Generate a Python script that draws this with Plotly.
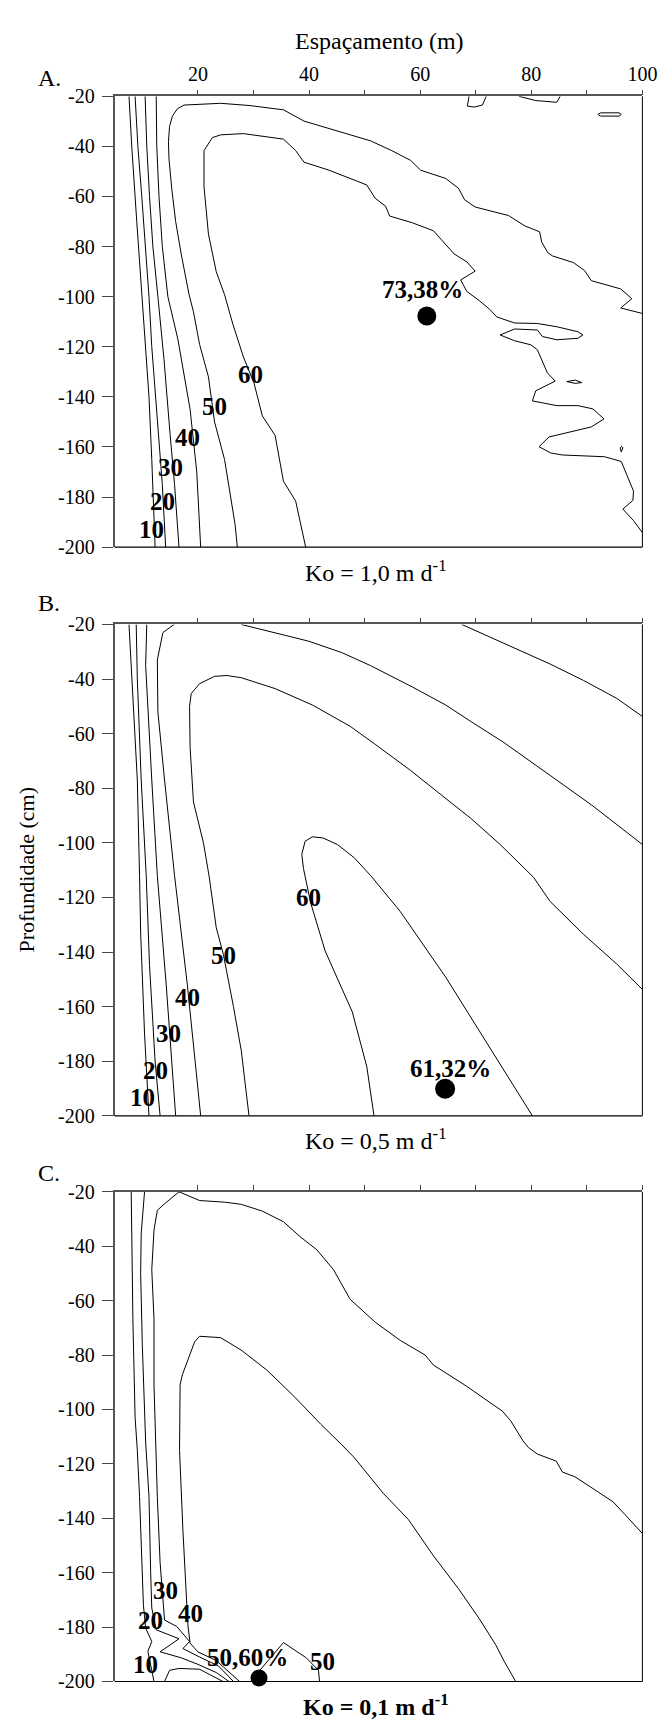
import plotly.graph_objects as go

# ---------------- data ----------------
x_tickvals = [20, 40, 60, 80, 100]
x_ticktext = ["20", "40", "60", "80", "100"]
x_minor_vals = [30, 50, 70, 90]
y_tickvals = [-20, -40, -60, -80, -100, -120, -140, -160, -180, -200]
y_ticktext = ["-20", "-40", "-60", "-80", "-100", "-120", "-140", "-160", "-180", "-200"]

# Panel A (Ko = 1,0)
A10_x = [7.6, 8.1, 9.0, 9.9, 10.6, 11.2, 11.7, 12.3]
A10_y = [-20, -40, -70, -100, -120, -140, -165, -200]
A20_x = [8.7, 9.2, 9.9, 10.6, 11.2, 11.7, 12.8, 13.6, 14.2]
A20_y = [-20, -40, -60, -80, -100, -120, -150, -175, -200]
A30_x = [10.5, 10.8, 11.3, 11.9, 12.8, 13.9, 15.0, 15.8, 16.6]
A30_y = [-20, -40, -60, -80, -100, -125, -155, -175, -200]
A40_x = [12.5, 12.6, 13.0, 13.6, 14.6, 16.4, 18.6, 19.8, 20.5]
A40_y = [-20, -40, -60, -80, -100, -117, -145, -170, -200]
A50_x = [27.1, 26.7, 24.8, 23.0, 21.9, 20.3, 19.2, 18.4, 17.0, 16.0, 15.3, 14.8, 14.7, 14.9,
         15.4, 16.3, 17.5, 24.1, 29.4, 35.4, 39.1, 45.9, 51.1, 54.9, 58.3, 60.1, 64.6, 66.9,
         68.0, 69.9, 75.9, 78.9, 81.5, 81.9, 83.0, 83.8, 87.6, 89.6, 90.8, 96.1, 98.1, 96.1, 100]
A50_y = [-200, -191, -165, -150, -132, -119, -106, -99, -83, -70, -57, -45, -38, -32,
         -28, -25, -23.5, -22.8, -23.7, -25.4, -29.9, -34.5, -37.8, -41.7, -45.6, -49.5, -52.8, -56.7,
         -61.3, -64.2, -67.6, -71.8, -74.1, -78.3, -82.5, -83.7, -86.4, -89.6, -93.6, -96.9, -100.8, -104.5, -106.7]
A60_x = [39.4, 37.6, 35.4, 33.9, 31.6, 30.1, 28.2, 26.3, 24.8, 23.3, 21.9, 21.1, 21.1, 22.6, 24.1,
         28.2, 35.4, 37.6, 39.1, 43.6, 50.4, 51.9, 53.8, 54.5, 58.6, 62.4, 66.1, 68.4, 69.9, 67.3,
         68.4, 70.6, 72.5, 73.8, 77.0, 81.1, 84.6, 88.4, 89.3, 88.4, 84.6, 82.0, 81.1, 77.0, 74.4,
         77.0, 79.9, 81.1, 82.9, 84.3, 80.8, 80.2, 84.6, 88.4, 91.1, 93.1, 90.8, 83.2, 81.4, 83.5,
         85.6, 93.2, 96.2, 97.7, 98.4, 98.3, 96.5, 98.4, 100]
A60_y = [-200, -181.6, -173.7, -155.4, -147.6, -134.5, -124.1, -111, -99.2, -90, -75, -56, -41.7, -36.5, -35.4,
         -34.9, -37.1, -41.7, -46.3, -49.5, -55.4, -60.7, -63.9, -67.8, -70.5, -73.7, -82.9, -86.1, -89.8, -93.3,
         -97.9, -101.5, -105, -108.1, -110.5, -110.7, -112.0, -114.0, -115.3, -116.6, -117.2, -115.9, -113.3, -112.9, -115.3,
         -117.6, -119.2, -121.2, -130.4, -133.7, -137.6, -141.6, -143.5, -143.5, -144.8, -148.8, -152.0, -156.0, -159.9, -162.4,
         -163.2, -163.9, -165.8, -173.7, -177.6, -181.3, -184.8, -189.4, -194.2]
A_isl1_x = [68.8, 68.5, 69.7, 71.2, 71.9]
A_isl1_y = [-20, -23.9, -24.3, -23.5, -20]
A_isl2_x = [77.8, 80.8, 84.6, 85.2]
A_isl2_y = [-20, -21.7, -22.4, -20]
A_isl3_x = [92.0, 92.5, 95.8, 96.2, 95.8, 92.5, 92.0]
A_isl3_y = [-27.2, -26.6, -26.6, -27.2, -27.9, -27.9, -27.2]
A_isl4_x = [86.4, 87.9, 89.1, 87.9, 86.4]
A_isl4_y = [-133.9, -133.3, -134.3, -134.6, -133.9]
A_isl5_x = [96.2, 96.0, 96.3, 96.5, 96.2]
A_isl5_y = [-162, -160.3, -159.8, -160.3, -162]
A_lab_text = ["10", "20", "30", "40", "50", "60"]
A_lab_x = [11.6, 13.6, 15.1, 18.2, 23.0, 29.4]
A_lab_y = [-193.1, -181.6, -168.1, -156.1, -143.7, -131.0]
A_max_x, A_max_y, A_max_text = 61.2, -107.7, "73,38%"

# Panel B (Ko = 0,5)
B10_x = [7.6, 8.0, 9.1, 9.5, 9.7, 10.4, 11.2]
B10_y = [-20, -35, -77, -112, -133, -170, -200]
B20_x = [8.9, 9.1, 9.8, 10.7, 11.3, 12.3, 13.2]
B20_y = [-20, -40, -77, -112, -145, -180, -200]
B30_x = [10.8, 10.6, 11.7, 12.7, 14.3, 16.0]
B30_y = [-20, -35, -77, -112, -152, -200]
B40_x = [15.7, 13.7, 12.7, 12.8, 14.0, 15.8, 18.1, 20.5]
B40_y = [-20, -23, -33, -52, -77, -112, -152, -200]
B40b_x = [27.8, 33.9, 39.9, 45.9, 51.1, 58.6, 64.6, 69.1, 75.1, 83.4, 90.9, 100]
B40b_y = [-20, -23, -26.1, -30.3, -35.1, -42.9, -49.5, -55.5, -63.3, -75.3, -86.2, -100.6]
B30b_x = [67.5, 73.6, 78.9, 83.4, 89.4, 95.4, 100]
B30b_y = [-20, -25.5, -30.3, -34.5, -40.5, -47.1, -53.7]
B50_x = [29.2, 27.8, 26.4, 24.6, 23.3, 22.0, 21.0, 19.2, 18.6, 18.5, 18.8, 20.3, 23.0, 25.2, 27.8,
         33.9, 40.6, 47.4, 51.9, 58.3, 63.9, 69.1, 74.4, 80.4, 83.4, 89.4, 95.4, 100]
B50_y = [-200, -176, -160, -141, -131, -112, -100, -85, -65, -50, -45.3, -41.7, -39.0, -38.7, -39.5,
         -43.5, -49.5, -57.3, -63.9, -73.5, -82.6, -91.0, -100.6, -112.6, -121.5, -133.5, -144.4, -153.7]
B60_x = [51.7, 50.4, 47.8, 42.9, 40.3, 39.0, 38.7, 39.3, 40.6, 42.5, 45.1, 48.1, 51.1, 56.4, 64.6, 72.1, 80.2]
B60_y = [-200, -182, -162, -139.6, -122, -109.4, -104.2, -99.4, -97.8, -98.2, -100.6, -105.4, -112.0, -125.1, -149.2, -173.4, -200]
B_lab_text = ["10", "20", "30", "40", "50", "60"]
B_lab_x = [10.0, 12.3, 14.7, 18.1, 24.6, 39.9]
B_lab_y = [-193.4, -183.3, -169.8, -156.5, -141.4, -120.2]
B_max_x, B_max_y, B_max_text = 64.5, -190.1, "61,32%"

# Panel C (Ko = 0,1)
C10_x = [8.0, 8.1, 8.3, 8.7, 9.1, 9.5, 10.0, 10.2, 10.6, 11.7, 11.0, 12.1]
C10_y = [-20, -37.7, -66.7, -103, -115, -132, -160, -172, -180.4, -185.3, -188.9, -200]
C10b_x = [14.0, 14.9, 16.6, 20.3, 24.5]
C10b_y = [-200, -195.9, -195.2, -195.5, -200]
C20_x = [10.4, 9.8, 9.7, 10.0, 10.6, 11.2, 11.5, 11.7, 12.5, 16.6, 13.2, 17.0, 20.0, 23.3, 25.6]
C20_y = [-20, -35.3, -49.8, -76.4, -112, -132, -160, -173, -181, -184.3, -189.1, -191.3, -193.7, -196.7, -200]
C30_x = [26.4, 23.7, 20.3, 17.3, 18.5, 16.2, 14.0, 13.2, 12.7, 12.5, 12.1, 12.1, 11.7, 12.1, 12.7, 14.0,
         16.6, 20.3, 24.8, 27.8, 31.6, 35.4, 38.4, 41.4, 44.4, 47.4, 51.9, 56.4, 60.9, 62.4, 66.1, 68.4,
         71.4, 74.8, 76.3, 78.5, 79.5, 81.1, 84.5, 85.6, 87.9, 91.6, 94.7, 96.9, 100]
C30_y = [-200, -194.3, -191.0, -187.9, -185.3, -179.8, -177.4, -156.3, -132.1, -115.1, -90.9, -66.7, -48.6, -34.1, -26.8, -24.4,
         -20, -23.2, -23.8, -24.6, -27.1, -31.0, -36.5, -41.3, -48.6, -59.5, -67.9, -74.6, -80.0, -83.7, -88.5, -91.5,
         -95.8, -100.6, -104.2, -111.5, -114, -116.4, -119.0, -123.0, -124.8, -129.7, -133.9, -138.7, -145.6]
C40_x = [27.5, 23.3, 20.0, 18.6, 18.2, 17.3, 16.7, 16.8, 17.2, 18.1, 19.4, 20.3, 24.1, 27.8, 32.4, 37.6,
         42.1, 45.9, 48.1, 53.4, 57.9, 62.4, 66.9, 70.6, 73.6, 75.1, 77.2]
C40_y = [-200, -192.3, -189.1, -185.9, -179.2, -144.2, -115.1, -90.9, -87.3, -82.5, -75.2, -73.1, -73.6, -78.2, -85.5, -95.8,
         -105.4, -113, -117.6, -130.9, -140.5, -153.8, -165.9, -176.8, -186.5, -192.5, -200]
C50_x = [30.0, 31.1, 35.4, 39.5, 41.7, 41.9]
C50_y = [-200, -196, -185.7, -191.3, -195.9, -200]
C_lab_text = ["10", "20", "30", "40", "50"]
C_lab_x = [10.6, 11.5, 14.2, 18.6, 42.4]
C_lab_y = [-193.7, -177.4, -166.5, -175.0, -192.6]
C_max_x, C_max_y, C_max_text = 31.0, -198.7, "50,60%"
C_max_lab_x, C_max_lab_y = 29.0, -191.0

# ---------------- layout geometry (pixels) ----------------
W, H = 666, 1722
X0, X1 = 109, 649
panels = [(78.3, 535.0), (613.3, 1111.0), (1188.0, 1684.0)]
FONT = "Liberation Serif"

fig = go.Figure()

def add_lines(i, lines):
    xa = "x" if i == 1 else f"x{i}"
    ya = "y" if i == 1 else f"y{i}"
    for xs, ys in lines:
        fig.add_trace(go.Scatter(x=xs, y=ys, mode="lines", line=dict(color="black", width=1),
                                 xaxis=xa, yaxis=ya, showlegend=False, hoverinfo="skip"))

add_lines(1, [(A10_x, A10_y), (A20_x, A20_y), (A30_x, A30_y), (A40_x, A40_y), (A50_x, A50_y),
              (A60_x, A60_y), (A_isl1_x, A_isl1_y), (A_isl2_x, A_isl2_y), (A_isl3_x, A_isl3_y),
              (A_isl4_x, A_isl4_y), (A_isl5_x, A_isl5_y)])
add_lines(2, [(B10_x, B10_y), (B20_x, B20_y), (B30_x, B30_y), (B40_x, B40_y), (B40b_x, B40b_y),
              (B30b_x, B30b_y), (B50_x, B50_y), (B60_x, B60_y)])
add_lines(3, [(C10_x, C10_y), (C10b_x, C10b_y), (C20_x, C20_y), (C30_x, C30_y), (C40_x, C40_y),
              (C50_x, C50_y)])

for i, (mx, my, msize) in enumerate([(A_max_x, A_max_y, 19), (B_max_x, B_max_y, 20), (C_max_x, C_max_y, 17)], 1):
    xa = "x" if i == 1 else f"x{i}"
    ya = "y" if i == 1 else f"y{i}"
    fig.add_trace(go.Scatter(x=[mx], y=[my], mode="markers", marker=dict(color="black", size=msize),
                             xaxis=xa, yaxis=ya, showlegend=False, cliponaxis=False, hoverinfo="skip"))

annotations = []
def lab(i, x, y, text, size=25, bold=True):
    xa = "x" if i == 1 else f"x{i}"
    ya = "y" if i == 1 else f"y{i}"
    t = f"<b>{text}</b>" if bold else text
    annotations.append(dict(x=x, y=y, xref=xa, yref=ya, text=t, showarrow=False,
                            font=dict(family=FONT, size=size, color="black"),
                            xanchor="center", yanchor="middle"))

for t, x, y in zip(A_lab_text, A_lab_x, A_lab_y):
    lab(1, x, y, t)
for t, x, y in zip(B_lab_text, B_lab_x, B_lab_y):
    lab(2, x, y, t)
for t, x, y in zip(C_lab_text, C_lab_x, C_lab_y):
    lab(3, x, y, t)
lab(1, A_max_x - 0.7, A_max_y + 10.4, A_max_text, size=25)
lab(2, B_max_x + 0.9, B_max_y + 7.6, B_max_text, size=25)
lab(3, C_max_lab_x, C_max_lab_y, C_max_text, size=25)

def ptext(px, py, text, size, xanchor="center", yanchor="middle", angle=0):
    annotations.append(dict(x=px / W, y=1 - py / H, xref="paper", yref="paper", text=text,
                            showarrow=False, font=dict(family=FONT, size=size, color="black"),
                            xanchor=xanchor, yanchor=yanchor, textangle=angle))

ptext(380, 22, "Espaçamento (m)", 24)
ptext(29, 60, "A.", 24, xanchor="left")
ptext(29, 592, "B.", 24, xanchor="left")
ptext(29, 1169, "C.", 24, xanchor="left")
ptext(376, 559, "Ko = 1,0 m d<sup>-1</sup>", 24)
ptext(376, 1135, "Ko = 0,5 m d<sup>-1</sup>", 24)
ptext(376, 1708, "<b>Ko = 0,1 m d<sup>-1</sup></b>", 24)
ptext(19, 862, "Profundidade (cm)", 22, angle=-90)

layout = dict(width=W, height=H, margin=dict(l=0, r=0, t=0, b=0),
              paper_bgcolor="white", plot_bgcolor="white", showlegend=False,
              annotations=annotations, shapes=[])

for i, (top, bot) in enumerate(panels, 1):
    xk = "xaxis" if i == 1 else f"xaxis{i}"
    yk = "yaxis" if i == 1 else f"yaxis{i}"
    ya = "y" if i == 1 else f"y{i}"
    xa = "x" if i == 1 else f"x{i}"
    layout[xk] = dict(domain=[X0 / W, X1 / W], range=[5, 100], side="top", anchor=ya,
                      tickmode="array", tickvals=x_tickvals, ticktext=x_ticktext,
                      showticklabels=(i == 1), ticks="outside", ticklen=5, tickcolor="#444",
                      minor=dict(tickvals=x_minor_vals, ticks="outside", ticklen=5, tickcolor="#444"),
                      tickfont=dict(family=FONT, size=20, color="black"), ticklabelstandoff=1,
                      showline=True, linecolor="#555", linewidth=1.5, showgrid=False, zeroline=False)
    layout[yk] = dict(domain=[1 - bot / H, 1 - top / H], range=[-200, -20], anchor=xa,
                      tickmode="array", tickvals=y_tickvals, ticktext=y_ticktext,
                      ticks="outside", ticklen=11, tickcolor="#444",
                      tickfont=dict(family=FONT, size=20, color="black"), ticklabelstandoff=3,
                      showline=True, linecolor="#555", linewidth=1.5, showgrid=False, zeroline=False)
    layout["shapes"].append(dict(type="line", xref=f"{xa} domain", yref=f"{ya} domain",
                                 x0=1, x1=1, y0=0, y1=1, line=dict(color="black", width=1)))
    layout["shapes"].append(dict(type="line", xref=f"{xa} domain", yref=f"{ya} domain",
                                 x0=0, x1=1, y0=0, y1=0, line=dict(color="black", width=1.2)))

fig.update_layout(**layout)
fig.write_html("out.html")
